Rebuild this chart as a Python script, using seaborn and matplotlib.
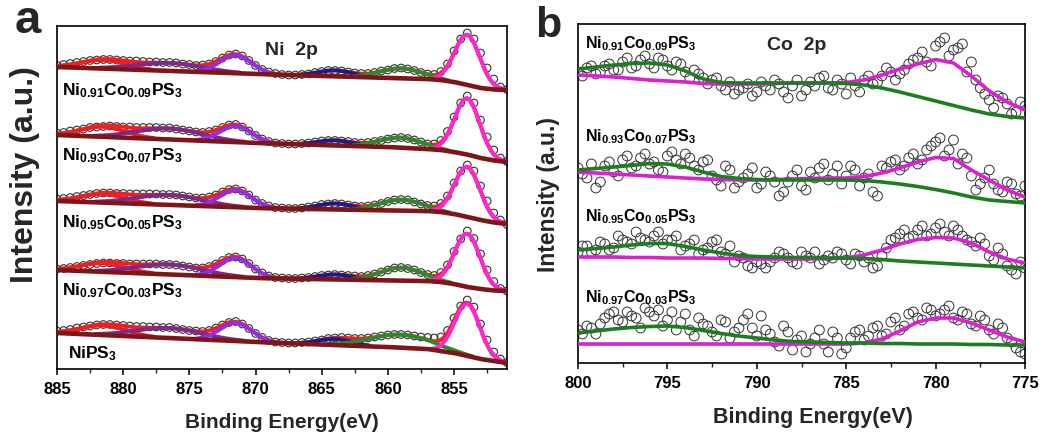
import numpy as np
import matplotlib
matplotlib.use("Agg")
import matplotlib.pyplot as plt
from matplotlib.ticker import MultipleLocator
import seaborn as sns

# ======================= DATA =======================
# ---- Panel a : Ni 2p (binding energy grid, measured points every 0.5 eV) ----
energy_a = np.arange(885.0, 850.9, -0.5)

ni091_a = [303.5, 304.5, 305.5, 306.5, 307.5, 308.5, 309, 309.5, 309.5, 309,
           308.5, 308, 308, 307.5, 307, 307, 306.5, 306.5, 306, 305,
           304.5, 303.5, 304, 305, 307.5, 311, 314, 315, 313, 308.5,
           303.5, 299.5, 297, 295.5, 294.5, 294, 294, 294.5, 295, 296.5,
           297.5, 298.5, 298.5, 298, 297, 296, 295.5, 295.5, 296.5, 298,
           299, 300.5, 301, 300, 298.5, 296.5, 295, 294.5, 297.5, 305,
           318, 330, 336, 330, 316, 301, 290, 282, 279.5]
ni093_a = [236, 236.5, 238, 239, 240, 241.5, 242, 242.5, 243, 242.5,
           242, 242, 241.5, 241.5, 241.5, 241.5, 241, 241, 240, 239,
           238, 237, 236.5, 237.5, 239, 241.5, 244, 244.5, 242, 238,
           233.5, 230, 227.5, 226, 225.5, 225, 225, 225.5, 226, 227,
           228, 228.5, 228.5, 228, 227.5, 226.5, 226, 226.5, 227.5, 228.5,
           230, 231, 231.5, 230.5, 229, 227, 225, 225, 228.5, 237.5,
           252, 266, 273, 266, 249, 232, 219, 211, 207.5]
ni095_a = [170, 170.5, 171.5, 172.5, 173.5, 174.5, 175.5, 176, 176, 175.5,
           175.5, 175, 175, 175, 175, 175, 174.5, 174.5, 174, 173,
           172, 171, 171, 172, 174, 177, 179.5, 180, 178, 174,
           169, 165.5, 163, 161.5, 161, 160.5, 160.5, 161, 162, 163,
           164.5, 165, 165.5, 165, 164, 163, 162.5, 163, 164, 165.5,
           167.5, 169, 169.5, 169, 167, 165, 163.5, 163, 165.5, 173,
           186, 198, 204, 198, 183, 168, 156, 149, 144.5]
ni097_a = [100, 100.5, 101.5, 102.5, 103.5, 104.5, 105.5, 106, 106, 105.5,
           105.5, 105, 105, 105, 105, 105, 104.5, 104.5, 104, 103,
           102, 101, 101, 102.5, 105, 108.5, 111.5, 112, 110, 105.5,
           100, 96, 93, 91.5, 91, 90.5, 90.5, 91, 91.5, 92.5,
           93.5, 94, 94.5, 94, 93.5, 93, 92.5, 93.5, 95, 97,
           99, 101, 101.5, 100.5, 99, 96.5, 94.5, 93.5, 96.5, 104,
           117.5, 130, 138, 130.5, 115, 99, 87.5, 80.5, 78]
nips3_a = [38, 38.5, 39.5, 41, 42, 43, 44, 44.5, 44.5, 44,
           43.5, 43, 42.5, 42.5, 42, 42, 41.5, 41.5, 40.5, 39.5,
           38.5, 38, 37.5, 38.5, 41, 44, 46.5, 47.5, 45, 40.5,
           35.5, 31.5, 28.5, 27, 26.5, 26, 26, 26.5, 27, 28,
           29, 30.5, 31, 31.5, 31, 30.5, 30.5, 31, 32, 33,
           34, 34.5, 34.5, 34, 33, 32, 31.5, 31, 32, 38.5,
           51, 63, 69, 62, 45, 29, 17, 10, 6.5]

# Shirley-type background (read at these energies)
bg_energy_a = [885, 870, 860, 857, 856, 855, 854, 853, 852, 851]
bg_ni091_a = [302, 295, 291, 290, 289, 287, 284, 281, 279.5, 279]
bg_ni093_a = [234, 226, 222, 220, 219, 217, 214.5, 211, 208.5, 207]
bg_ni095_a = [168, 161, 158.5, 158, 157, 155, 152, 149, 146.5, 145]
bg_ni097_a = [99, 91, 88.5, 88, 87, 85, 82, 80, 78.5, 78]
bg_nips3_a = [36, 27, 22, 20, 18, 16, 13, 10, 8, 6]

# fitted peaks: centres (eV), heights, widths (sigma, eV)
peak_centers_a = [881.5, 876.5, 871.5, 864.0, 859.0, 854.0]
height_ni091_a = [8.5, 8, 18, 6, 10, 50]
height_ni093_a = [10, 11, 16, 5, 10, 56]
height_ni095_a = [8.5, 10, 17, 6, 11, 50]
height_ni097_a = [8.5, 10, 19, 5, 13, 53]
height_nips3_a = [9.5, 10, 18, 6, 13, 52]
width_ni_a = [1.7, 2.5, 1.2, 1.3, 1.6, 0.95]
width_nips3_a = [1.7, 2.5, 1.2, 1.3, 2.3, 0.95]

labels_a = [r"$\mathbf{Ni_{0.91}Co_{0.09}PS_3}$", r"$\mathbf{Ni_{0.93}Co_{0.07}PS_3}$",
            r"$\mathbf{Ni_{0.95}Co_{0.05}PS_3}$", r"$\mathbf{Ni_{0.97}Co_{0.03}PS_3}$",
            r"$\mathbf{NiPS_3}$"]

# ---- Panel b : Co 2p ----
energy_b = np.arange(800.0, 774.9, -0.5)       # measured points, grid 1
energy_b_mid = np.arange(799.75, 775.0, -0.5)  # measured points, grid 2
curve_energy_b = np.arange(800.0, 774.9, -1.0)

ni091_b = [291, 295, 289, 297, 293, 301, 295, 303, 299, 305,
           297, 301, 291, 293, 285, 283, 277, 281, 273, 279,
           271, 277, 283, 271, 277, 267, 281, 285, 275, 283,
           269, 277, 283, 279, 287, 291, 289, 299, 305, 301,
           317, 325, 313, 319, 301, 275, 263, 267, 259, 251,
           257]
ni091_b_mid = [287, 297, 291, 299, 293, 305, 297, 307, 295, 303,
               293, 299, 285, 289, 279, 285, 273, 269, 275, 267,
               281, 273, 279, 265, 283, 273, 277, 287, 273, 279,
               285, 271, 287, 281, 295, 283, 293, 303, 311, 297,
               321, 307, 315, 291, 283, 269, 255, 265, 249, 261]
ni091_b_green = [294, 296, 298, 299.5, 300, 298, 292, 284, 280.5, 280, 280, 280, 280,
                 280, 280, 279.5, 278, 275, 271, 266.5, 262, 257.5, 253, 249, 246.5, 245]
ni091_b_magenta = [288, 287, 286, 284.5, 283, 282, 281, 279.5, 279, 279, 279, 279.5, 280,
                   280, 280, 280.5, 283, 288, 294, 299, 303.5, 300, 287, 272, 261, 253]

ni093_b = [195, 185, 175, 197, 191, 203, 195, 205, 199, 193,
           207, 203, 209, 197, 201, 187, 177, 193, 181, 189,
           175, 191, 181, 171, 187, 177, 191, 195, 183, 197,
           187, 193, 185, 171, 197, 201, 193, 205, 199, 213,
           221, 207, 223, 209, 187, 179, 193, 173, 181, 169,
           177]
ni093_b_mid = [189, 199, 181, 201, 187, 207, 197, 209, 201, 191,
               211, 199, 205, 193, 203, 183, 197, 175, 185, 195,
               179, 187, 167, 181, 193, 173, 185, 199, 189, 179,
               197, 177, 189, 167, 195, 203, 197, 209, 203, 217,
               225, 213, 199, 205, 173, 185, 179, 171, 179, 167]
ni093_b_green = [193, 194.5, 196, 197.5, 199.5, 199, 196, 191, 186.5, 184.5, 183.5, 183, 183,
                 183, 183, 183, 182.5, 181, 179, 176.5, 173.5, 170, 166, 163, 161.5, 160]
ni093_b_magenta = [191, 190, 189, 188, 187, 186, 185, 184, 183.5, 183, 183, 183.5, 184,
                   184.5, 185, 185, 186.5, 190, 195, 201, 205.5, 204.5, 193, 183, 173, 166]

ni095_b = [111, 117, 113, 119, 115, 123, 119, 125, 121, 131,
           123, 127, 117, 123, 113, 121, 111, 117, 107, 97,
           101, 95, 105, 109, 101, 111, 105, 99, 107, 111,
           103, 109, 101, 95, 107, 123, 129, 125, 133, 127,
           135, 131, 137, 127, 121, 125, 107, 115, 97, 89,
           95]
ni095_b_mid = [117, 111, 121, 113, 127, 121, 131, 123, 127, 119,
               123, 113, 119, 109, 115, 123, 109, 101, 105, 95,
               99, 101, 111, 105, 99, 107, 111, 103, 105, 109,
               99, 107, 105, 97, 115, 125, 133, 127, 137, 129,
               139, 127, 133, 123, 117, 119, 103, 109, 93, 101]
ni095_b_green = [113, 114.5, 116, 118, 119.5, 119.5, 116.5, 113, 110, 107.5, 106.5, 106, 105.5,
                 105.5, 105, 105, 104.5, 103.5, 102, 101, 100, 99, 98, 97, 96, 95]
ni095_b_magenta = [106, 106, 106, 105.5, 105.5, 105, 105, 105, 104.5, 104.5, 104, 104, 104,
                   104, 104.5, 105, 108, 113, 119, 123.5, 125.5, 125, 120, 111, 104, 100]

ni097_b = [33, 37, 29, 45, 51, 41, 47, 35, 51, 53,
           43, 33, 49, 27, 39, 31, 43, 25, 35, 49,
           27, 33, 21, 37, 13, 27, 19, 33, 11, 25,
           15, 31, 23, 35, 27, 41, 33, 49, 45, 55,
           47, 53, 45, 51, 39, 47, 33, 39, 25, 15,
           9]
ni097_b_mid = [29, 35, 39, 49, 43, 51, 45, 55, 47, 37,
               51, 41, 33, 45, 37, 27, 41, 31, 43, 35,
               47, 29, 17, 31, 23, 11, 25, 19, 31, 9,
               25, 33, 27, 37, 29, 45, 37, 51, 43, 53,
               49, 57, 43, 49, 37, 43, 29, 35, 21, 11]
ni097_b_green = [30, 32, 34, 35.5, 36.5, 37, 35.5, 32.5, 29.5, 27, 25, 23, 21.5,
                 21, 20.5, 20, 20, 19.5, 19.5, 19, 19, 19, 18.5, 18.5, 18, 18]
ni097_b_magenta = [19, 19, 19, 19, 19, 19, 19, 19, 19, 19, 19, 19, 19,
                   19, 19, 19, 20, 24, 32, 41, 45, 45, 40, 33, 26, 21]

labels_b = [r"$\mathbf{Ni_{0.91}Co_{0.09}PS_3}$", r"$\mathbf{Ni_{0.93}Co_{0.07}PS_3}$",
            r"$\mathbf{Ni_{0.95}Co_{0.05}PS_3}$", r"$\mathbf{Ni_{0.97}Co_{0.03}PS_3}$"]

xticks_a = [885, 880, 875, 870, 865, 860, 855]
xticks_b = [800, 795, 790, 785, 780, 775]

# ======================= STYLE =======================
sns.set_theme(style="ticks")
plt.rcParams["font.family"] = ["Liberation Sans", "DejaVu Sans"]
plt.rcParams["font.weight"] = "bold"
plt.rcParams["axes.labelweight"] = "bold"
plt.rcParams["mathtext.fontset"] = "custom"
plt.rcParams["mathtext.bf"] = "Liberation Sans:bold"
plt.rcParams["mathtext.rm"] = "Liberation Sans:bold"
plt.rcParams["mathtext.it"] = "Liberation Sans:bold"

BROWN = "#7D1519"
RED = "#EC1F22"
PURPLE = "#7A2A8C"
VIOLET = "#8E2EE8"
NAVY = "#1C1C88"
GREEN_A = "#2B8A29"
MAGENTA_A = "#FF25D2"
GREEN_B = "#1F7D21"
MAGENTA_B = "#DB20D3"
comp_colors_a = [RED, PURPLE, VIOLET, NAVY, GREEN_A, MAGENTA_A]
CIRCLE_EDGE = "#333333"

fig = plt.figure(figsize=(10.45, 4.41), dpi=100)
axA = fig.add_axes([57 / 1045, 72 / 441, 450 / 1045, 343 / 441])
axB = fig.add_axes([578 / 1045, 78 / 441, 447 / 1045, 339 / 441])

# ======================= PANEL a =======================
spectra_a = [
    (ni091_a, bg_ni091_a, height_ni091_a, width_ni_a),
    (ni093_a, bg_ni093_a, height_ni093_a, width_ni_a),
    (ni095_a, bg_ni095_a, height_ni095_a, width_ni_a),
    (ni097_a, bg_ni097_a, height_ni097_a, width_ni_a),
    (nips3_a, bg_nips3_a, height_nips3_a, width_nips3_a),
]
fine = np.linspace(885, 851, 1361)
for data, bg, heights, widths in spectra_a:
    sns.scatterplot(x=energy_a, y=data, ax=axA, marker="o", s=30, color="none",
                    edgecolor=CIRCLE_EDGE, linewidth=0.8, zorder=2, legend=False)
    base = np.interp(fine, bg_energy_a[::-1], bg[::-1])
    comps = [h * np.exp(-(fine - c) ** 2 / (2 * w * w))
             for c, h, w in zip(peak_centers_a, heights, widths)]
    env = base + np.sum(comps, axis=0)
    sns.lineplot(x=fine, y=env, ax=axA, color=RED, lw=2.8, zorder=3,
                 sort=False, estimator=None, legend=False)
    for comp, col in zip(comps, comp_colors_a):
        m = comp > 0.8
        sns.lineplot(x=fine[m], y=(base + comp)[m], ax=axA, color=col, lw=2.8,
                     zorder=4, sort=False, estimator=None, legend=False)
    sns.lineplot(x=fine, y=base, ax=axA, color=BROWN, lw=3.3, zorder=5,
                 sort=False, estimator=None, legend=False)

label_pos_a = [(884.6, 274), (884.6, 209), (884.6, 142), (884.6, 74), (884.2, 11)]
for lab, (lx, ly) in zip(labels_a, label_pos_a):
    axA.text(lx, ly, lab, fontsize=12.5, ha="left", va="baseline", color="black", zorder=6)
axA.text(0.522, 0.915, "Ni  2p", transform=axA.transAxes, fontsize=14,
         fontweight="bold", ha="center", va="baseline")

axA.set_xlim(885, 851)
axA.set_ylim(0, 343)
axA.set_xticks(xticks_a)
axA.set_xticklabels([str(t) for t in xticks_a])
axA.xaxis.set_minor_locator(MultipleLocator(2.5))
axA.set_yticks([])

# ======================= PANEL b =======================
spectra_b = [
    (ni091_b, ni091_b_mid, ni091_b_green, ni091_b_magenta),
    (ni093_b, ni093_b_mid, ni093_b_green, ni093_b_magenta),
    (ni095_b, ni095_b_mid, ni095_b_green, ni095_b_magenta),
    (ni097_b, ni097_b_mid, ni097_b_green, ni097_b_magenta),
]
for data, data_mid, green, mag in spectra_b:
    for ex, vals in ((energy_b, data), (energy_b_mid, data_mid)):
        sns.scatterplot(x=ex, y=vals, ax=axB, marker="o", s=50, color="none",
                        edgecolor=CIRCLE_EDGE, linewidth=0.7, zorder=2, legend=False)
    sns.lineplot(x=curve_energy_b, y=mag, ax=axB, color=MAGENTA_B, lw=2.6, zorder=3,
                 sort=False, estimator=None, legend=False)
    sns.lineplot(x=curve_energy_b, y=green, ax=axB, color=GREEN_B, lw=2.6, zorder=4,
                 sort=False, estimator=None, legend=False)

label_pos_b = [(799.6, 315), (799.6, 222), (799.6, 142), (799.6, 61)]
for lab, (lx, ly) in zip(labels_b, label_pos_b):
    axB.text(lx, ly, lab, fontsize=11.5, ha="left", va="baseline", color="black", zorder=6)
axB.text(0.49, 0.923, "Co  2p", transform=axB.transAxes, fontsize=14,
         fontweight="bold", ha="center", va="baseline")

axB.set_xlim(800, 775)
axB.set_ylim(0, 339)
axB.set_xticks(xticks_b)
axB.set_xticklabels([str(t) for t in xticks_b])
axB.xaxis.set_minor_locator(MultipleLocator(2.5))
axB.set_yticks([])

# ======================= AXES COMMON =======================
for ax in (axA, axB):
    for sp in ax.spines.values():
        sp.set_visible(True)
        sp.set_color("black")
        sp.set_linewidth(1.2)
    ax.tick_params(axis="x", which="major", direction="out", length=4.5, width=1.1,
                   labelsize=12, pad=5, top=False, bottom=True, colors="black")
    ax.tick_params(axis="x", which="minor", direction="out", length=3, width=1.0,
                   top=False, bottom=True)
    for tl in ax.get_xticklabels():
        tl.set_fontweight("bold")

axA.set_xlabel("Binding Energy(eV)", fontsize=15, fontweight="bold")
axA.xaxis.set_label_coords(0.5, -0.128)
axB.set_xlabel("Binding Energy(eV)", fontsize=15.5, fontweight="bold")
axB.xaxis.set_label_coords(0.526, -0.130)

axA.set_ylabel("Intensity (a.u.)", fontsize=23, fontweight="bold", va="center",
               rotation_mode="anchor")
axA.yaxis.set_label_coords(-0.071, 0.566)
axB.set_ylabel("Intensity (a.u.)", fontsize=16.5, fontweight="bold", va="center",
               rotation_mode="anchor")
axB.yaxis.set_label_coords(-0.065, 0.496)

fig.text(28 / 1045, 1 - 33 / 441, "a", fontsize=34, fontweight="bold",
         ha="center", va="baseline")
fig.text(548 / 1045, 1 - 37 / 441, "b", fontsize=31, fontweight="bold",
         ha="center", va="baseline")

fig.savefig("out.png", dpi=100, facecolor="white")
